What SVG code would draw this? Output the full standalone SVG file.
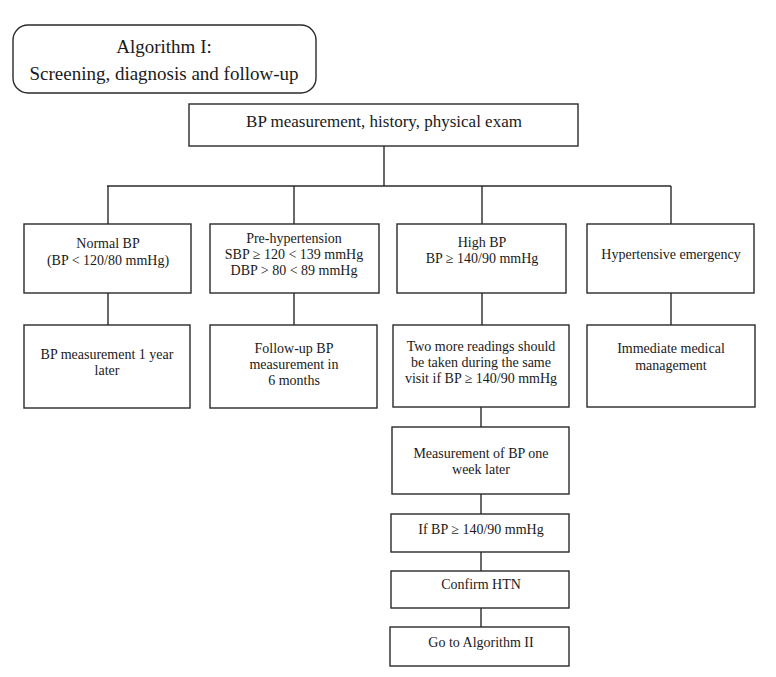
<svg xmlns="http://www.w3.org/2000/svg" width="776" height="677" viewBox="0 0 776 677">
<style>
rect{fill:#fff;stroke:#2a2a2a;stroke-width:1.4}
text{font-family:"Liberation Serif","Times New Roman",serif;font-size:14px;fill:#1a1a1a;text-anchor:middle}
.big{font-size:17px}
.title{font-size:19px}
#connectors line{stroke:#2a2a2a;stroke-width:1.4}
</style>
<rect width="776" height="677" style="fill:#fff;stroke:none"/>
<g id="connectors">
<line x1="384" y1="146" x2="384" y2="186"/>
<line x1="107" y1="186" x2="671" y2="186"/>
<line x1="108" y1="186" x2="108" y2="224"/>
<line x1="294" y1="186" x2="294" y2="224"/>
<line x1="482" y1="186" x2="482" y2="224"/>
<line x1="671" y1="186" x2="671" y2="224"/>
<line x1="108" y1="293" x2="108" y2="325"/>
<line x1="294" y1="293" x2="294" y2="325"/>
<line x1="482" y1="293" x2="482" y2="325"/>
<line x1="671" y1="293" x2="671" y2="325"/>
<line x1="481" y1="407" x2="481" y2="427"/>
<line x1="481" y1="494" x2="481" y2="514"/>
<line x1="481" y1="552" x2="481" y2="571"/>
<line x1="481" y1="608" x2="481" y2="627"/>
</g>
<g id="title">
<rect x="13" y="25" width="303" height="68" rx="15" ry="15"/>
<text class="title" x="164" y="53">Algorithm I:</text>
<text class="title" x="164" y="80">Screening, diagnosis and follow-up</text>
</g>
<g id="start">
<rect x="189" y="104" width="389" height="42"/>
<text class="big" x="384" y="127">BP measurement, history, physical exam</text>
</g>
<g id="normal">
<rect x="24" y="224" width="167" height="69"/>
<text x="108" y="248">Normal BP</text>
<text x="108" y="265">(BP &lt; 120/80 mmHg)</text>
</g>
<g id="prehtn">
<rect x="210" y="224" width="169" height="69"/>
<text x="294" y="243">Pre-hypertension</text>
<text x="294" y="259">SBP ≥ 120 &lt; 139 mmHg</text>
<text x="294" y="275">DBP &gt; 80 &lt; 89 mmHg</text>
</g>
<g id="high">
<rect x="397" y="224" width="169" height="69"/>
<text x="482" y="247">High BP</text>
<text x="482" y="263">BP ≥ 140/90 mmHg</text>
</g>
<g id="emergency">
<rect x="587" y="224" width="167" height="69"/>
<text x="671" y="259">Hypertensive emergency</text>
</g>
<g id="normal2">
<rect x="24" y="325" width="166" height="83"/>
<text x="107" y="359">BP measurement 1 year</text>
<text x="107" y="375">later</text>
</g>
<g id="prehtn2">
<rect x="210" y="325" width="167" height="83"/>
<text x="294" y="353">Follow-up BP</text>
<text x="294" y="369">measurement in</text>
<text x="294" y="385">6 months</text>
</g>
<g id="high2">
<rect x="393" y="325" width="176" height="82"/>
<text x="481" y="351">Two more readings should</text>
<text x="481" y="367">be taken during the same</text>
<text x="481" y="383">visit if BP ≥ 140/90 mmHg</text>
</g>
<g id="emergency2">
<rect x="587" y="325" width="168" height="82"/>
<text x="671" y="353">Immediate medical</text>
<text x="671" y="370">management</text>
</g>
<g id="week">
<rect x="392" y="427" width="177" height="67"/>
<text x="481" y="458">Measurement of BP one</text>
<text x="481" y="474">week later</text>
</g>
<g id="ifbp">
<rect x="391" y="514" width="178" height="38"/>
<text x="481" y="534">If BP ≥ 140/90 mmHg</text>
</g>
<g id="confirm">
<rect x="391" y="571" width="178" height="37"/>
<text x="481" y="589">Confirm HTN</text>
</g>
<g id="algo2">
<rect x="390" y="627" width="179" height="39"/>
<text x="481" y="647">Go to Algorithm II</text>
</g>
</svg>
